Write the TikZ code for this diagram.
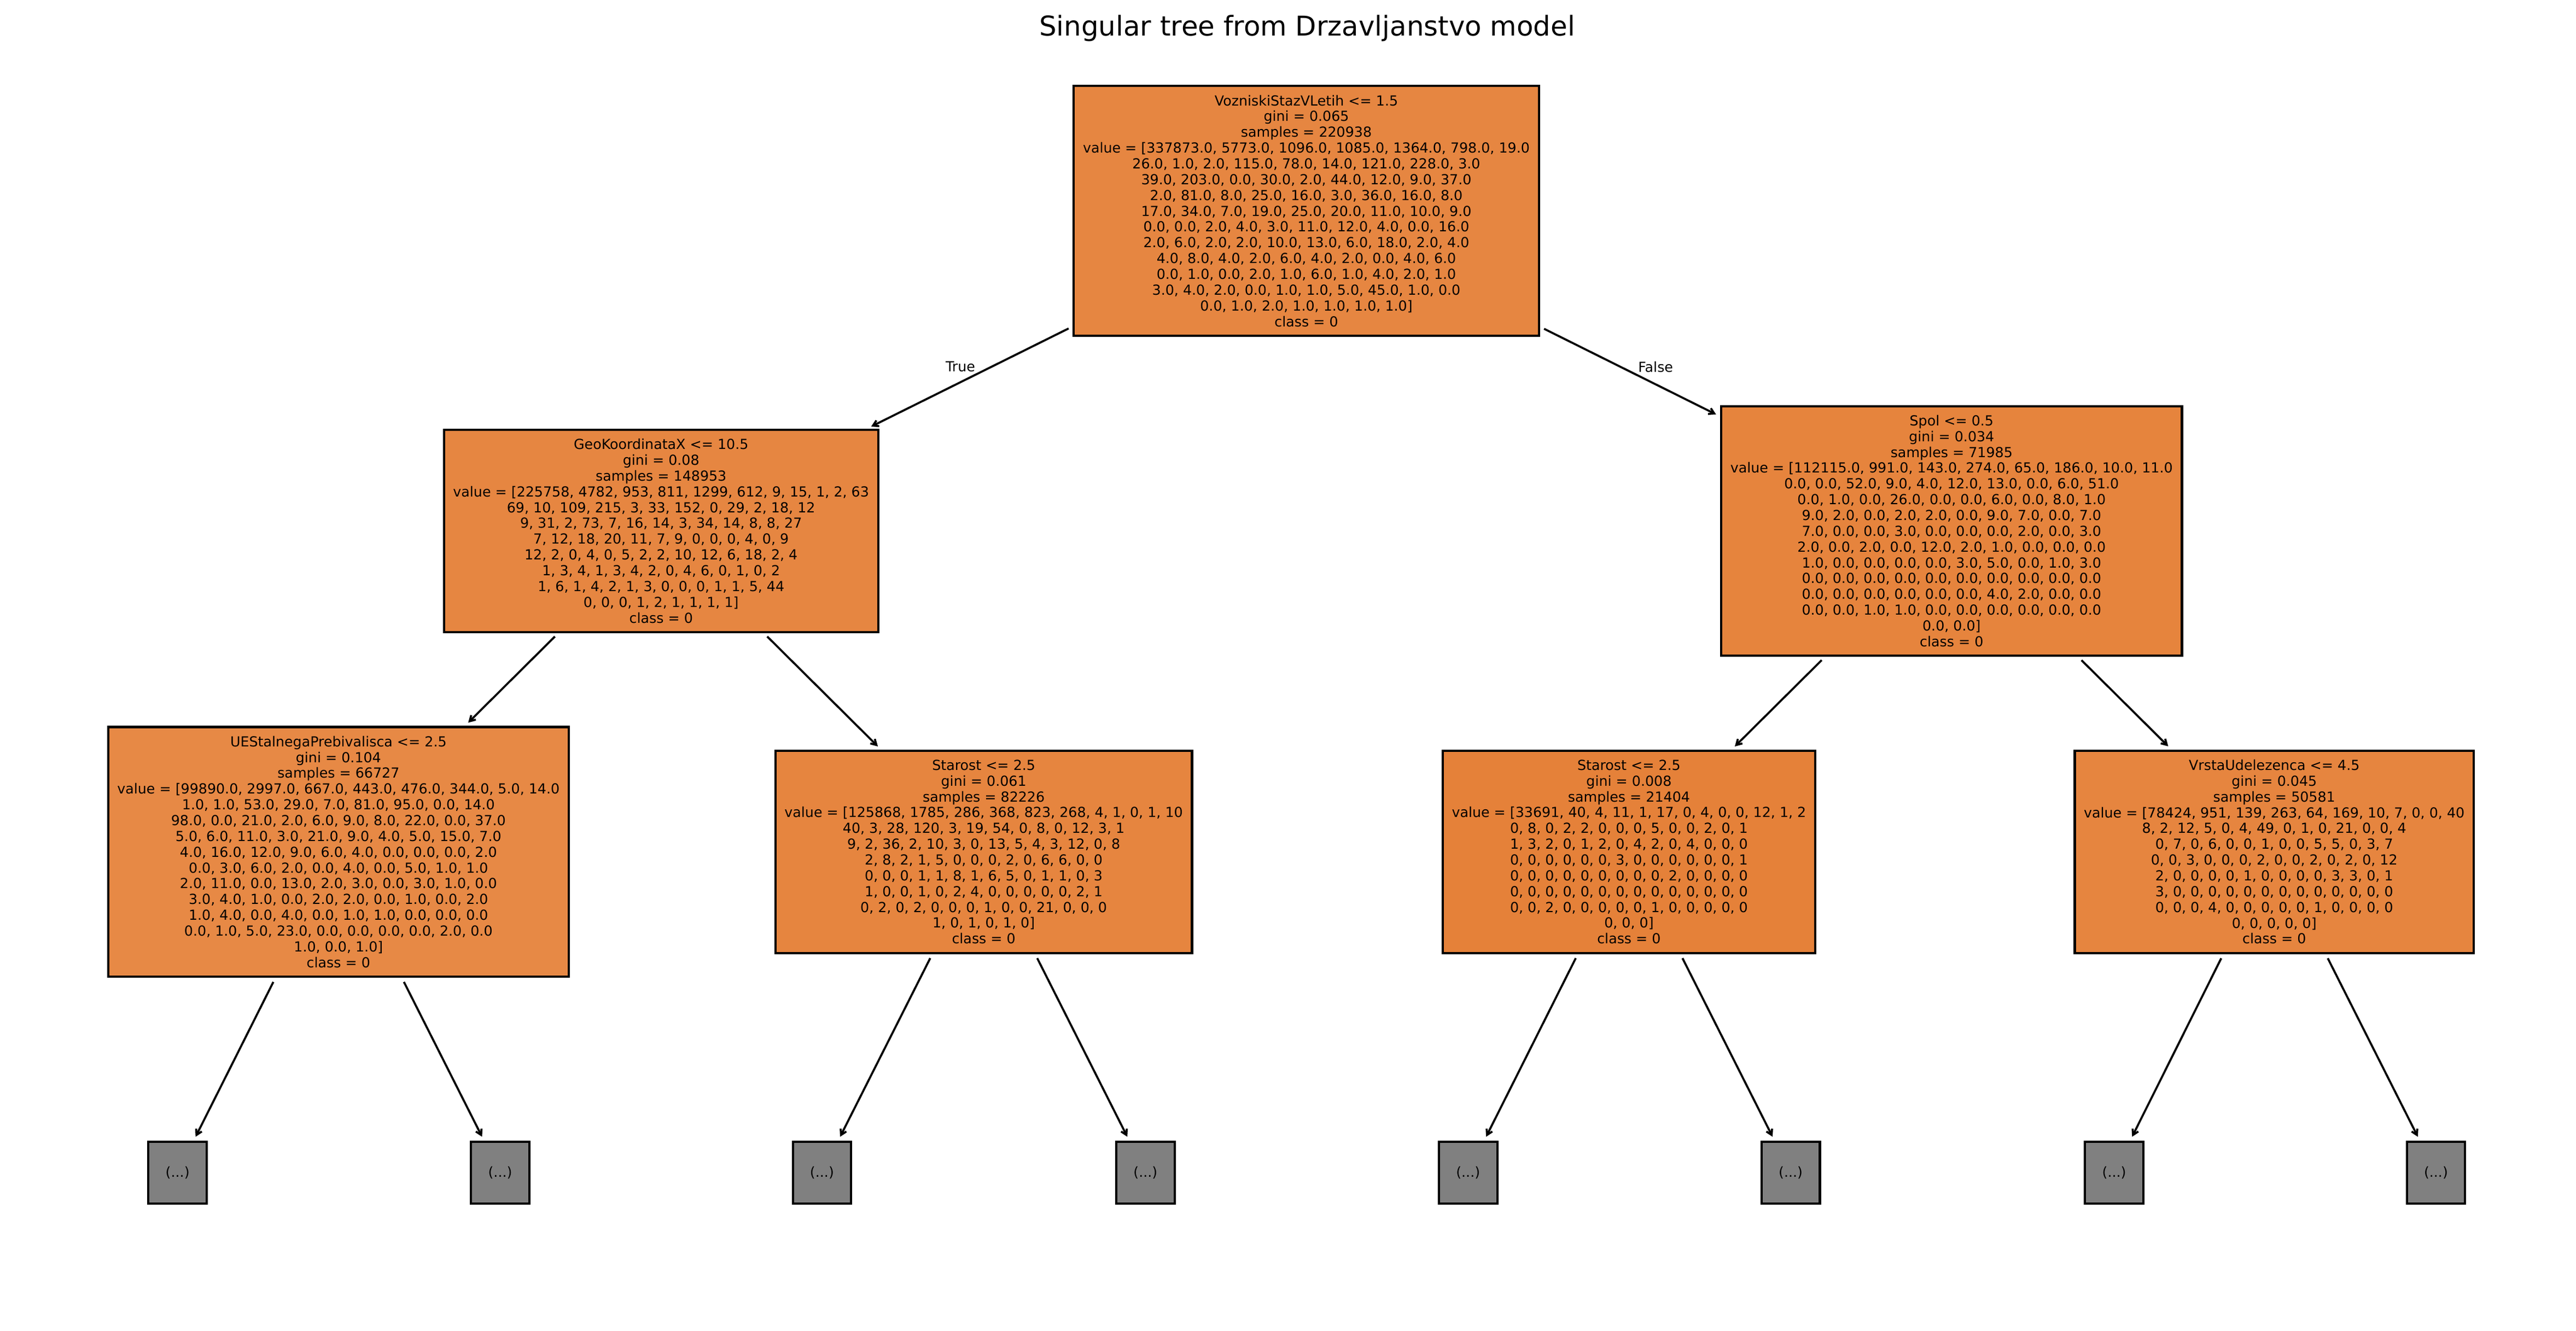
\documentclass[tikz,border=0pt]{standalone}
\usepackage{fontspec}
\setmainfont{DejaVu Sans}
\usetikzlibrary{arrows.meta}
\definecolor{treeorange}{HTML}{E58139}
\definecolor{truncgray}{HTML}{808080}

\begin{document}
\begin{tikzpicture}[
    x=0.25811mm, y=-0.25811mm,
    decision/.style={rectangle, draw, line width=1pt, align=center, inner xsep=4pt, inner ysep=4pt, font=\fontsize{6.1}{6.95}\selectfont},
    truncated/.style={rectangle, draw, line width=1pt, fill=truncgray, minimum width=9.03mm, minimum height=9.55mm, inner sep=0pt, font=\fontsize{6.1}{7}\selectfont},
    link/.style={-{Straight Barb[length=2.4pt, width=2.8pt]}, line width=0.9pt, shorten >=2pt, shorten <=2pt},
    answer/.style={font=\fontsize{6.1}{7}\selectfont}
]
    \useasboundingbox (0,0) rectangle (1545,798.1);

    % Title
    \node[font=\fontsize{12}{14}\selectfont] (title) at (784,17) {Singular tree from Drzavljanstvo model};

    % Root
    \node[decision, fill=treeorange!96] (root) at (783.5,126.5) {VozniskiStazVLetih <= 1.5\\gini = 0.065\\samples = 220938\\value = [337873.0, 5773.0, 1096.0, 1085.0, 1364.0, 798.0, 19.0\\26.0, 1.0, 2.0, 115.0, 78.0, 14.0, 121.0, 228.0, 3.0\\39.0, 203.0, 0.0, 30.0, 2.0, 44.0, 12.0, 9.0, 37.0\\2.0, 81.0, 8.0, 25.0, 16.0, 3.0, 36.0, 16.0, 8.0\\17.0, 34.0, 7.0, 19.0, 25.0, 20.0, 11.0, 10.0, 9.0\\0.0, 0.0, 2.0, 4.0, 3.0, 11.0, 12.0, 4.0, 0.0, 16.0\\2.0, 6.0, 2.0, 2.0, 10.0, 13.0, 6.0, 18.0, 2.0, 4.0\\4.0, 8.0, 4.0, 2.0, 6.0, 4.0, 2.0, 0.0, 4.0, 6.0\\0.0, 1.0, 0.0, 2.0, 1.0, 6.0, 1.0, 4.0, 2.0, 1.0\\3.0, 4.0, 2.0, 0.0, 1.0, 1.0, 5.0, 45.0, 1.0, 0.0\\0.0, 1.0, 2.0, 1.0, 1.0, 1.0, 1.0]\\class = 0};

    % Depth 1
    \node[decision, fill=treeorange!96] (geo) at (396.5,318.5) {GeoKoordinataX <= 10.5\\gini = 0.08\\samples = 148953\\value = [225758, 4782, 953, 811, 1299, 612, 9, 15, 1, 2, 63\\69, 10, 109, 215, 3, 33, 152, 0, 29, 2, 18, 12\\9, 31, 2, 73, 7, 16, 14, 3, 34, 14, 8, 8, 27\\7, 12, 18, 20, 11, 7, 9, 0, 0, 0, 4, 0, 9\\12, 2, 0, 4, 0, 5, 2, 2, 10, 12, 6, 18, 2, 4\\1, 3, 4, 1, 3, 4, 2, 0, 4, 6, 0, 1, 0, 2\\1, 6, 1, 4, 2, 1, 3, 0, 0, 0, 1, 1, 5, 44\\0, 0, 0, 1, 2, 1, 1, 1, 1]\\class = 0};
    \node[decision, fill=treeorange!98] (spol) at (1170.5,318.5) {Spol <= 0.5\\gini = 0.034\\samples = 71985\\value = [112115.0, 991.0, 143.0, 274.0, 65.0, 186.0, 10.0, 11.0\\0.0, 0.0, 52.0, 9.0, 4.0, 12.0, 13.0, 0.0, 6.0, 51.0\\0.0, 1.0, 0.0, 26.0, 0.0, 0.0, 6.0, 0.0, 8.0, 1.0\\9.0, 2.0, 0.0, 2.0, 2.0, 0.0, 9.0, 7.0, 0.0, 7.0\\7.0, 0.0, 0.0, 3.0, 0.0, 0.0, 0.0, 2.0, 0.0, 3.0\\2.0, 0.0, 2.0, 0.0, 12.0, 2.0, 1.0, 0.0, 0.0, 0.0\\1.0, 0.0, 0.0, 0.0, 0.0, 3.0, 5.0, 0.0, 1.0, 3.0\\0.0, 0.0, 0.0, 0.0, 0.0, 0.0, 0.0, 0.0, 0.0, 0.0\\0.0, 0.0, 0.0, 0.0, 0.0, 0.0, 4.0, 2.0, 0.0, 0.0\\0.0, 0.0, 1.0, 1.0, 0.0, 0.0, 0.0, 0.0, 0.0, 0.0\\0.0, 0.0]\\class = 0};

    % Depth 2
    \node[decision, fill=treeorange!94] (uestal) at (203,511) {UEStalnegaPrebivalisca <= 2.5\\gini = 0.104\\samples = 66727\\value = [99890.0, 2997.0, 667.0, 443.0, 476.0, 344.0, 5.0, 14.0\\1.0, 1.0, 53.0, 29.0, 7.0, 81.0, 95.0, 0.0, 14.0\\98.0, 0.0, 21.0, 2.0, 6.0, 9.0, 8.0, 22.0, 0.0, 37.0\\5.0, 6.0, 11.0, 3.0, 21.0, 9.0, 4.0, 5.0, 15.0, 7.0\\4.0, 16.0, 12.0, 9.0, 6.0, 4.0, 0.0, 0.0, 0.0, 2.0\\0.0, 3.0, 6.0, 2.0, 0.0, 4.0, 0.0, 5.0, 1.0, 1.0\\2.0, 11.0, 0.0, 13.0, 2.0, 3.0, 0.0, 3.0, 1.0, 0.0\\3.0, 4.0, 1.0, 0.0, 2.0, 2.0, 0.0, 1.0, 0.0, 2.0\\1.0, 4.0, 0.0, 4.0, 0.0, 1.0, 1.0, 0.0, 0.0, 0.0\\0.0, 1.0, 5.0, 23.0, 0.0, 0.0, 0.0, 0.0, 2.0, 0.0\\1.0, 0.0, 1.0]\\class = 0};
    \node[decision, fill=treeorange!97] (starostA) at (590,511) {Starost <= 2.5\\gini = 0.061\\samples = 82226\\value = [125868, 1785, 286, 368, 823, 268, 4, 1, 0, 1, 10\\40, 3, 28, 120, 3, 19, 54, 0, 8, 0, 12, 3, 1\\9, 2, 36, 2, 10, 3, 0, 13, 5, 4, 3, 12, 0, 8\\2, 8, 2, 1, 5, 0, 0, 0, 2, 0, 6, 6, 0, 0\\0, 0, 0, 1, 1, 8, 1, 6, 5, 0, 1, 1, 0, 3\\1, 0, 0, 1, 0, 2, 4, 0, 0, 0, 0, 0, 2, 1\\0, 2, 0, 2, 0, 0, 0, 1, 0, 0, 21, 0, 0, 0\\1, 0, 1, 0, 1, 0]\\class = 0};
    \node[decision, fill=treeorange] (starostB) at (977,511) {Starost <= 2.5\\gini = 0.008\\samples = 21404\\value = [33691, 40, 4, 11, 1, 17, 0, 4, 0, 0, 12, 1, 2\\0, 8, 0, 2, 2, 0, 0, 0, 5, 0, 0, 2, 0, 1\\1, 3, 2, 0, 1, 2, 0, 4, 2, 0, 4, 0, 0, 0\\0, 0, 0, 0, 0, 0, 3, 0, 0, 0, 0, 0, 0, 1\\0, 0, 0, 0, 0, 0, 0, 0, 0, 2, 0, 0, 0, 0\\0, 0, 0, 0, 0, 0, 0, 0, 0, 0, 0, 0, 0, 0\\0, 0, 2, 0, 0, 0, 0, 0, 1, 0, 0, 0, 0, 0\\0, 0, 0]\\class = 0};
    \node[decision, fill=treeorange!97] (vrsta) at (1364,511) {VrstaUdelezenca <= 4.5\\gini = 0.045\\samples = 50581\\value = [78424, 951, 139, 263, 64, 169, 10, 7, 0, 0, 40\\8, 2, 12, 5, 0, 4, 49, 0, 1, 0, 21, 0, 0, 4\\0, 7, 0, 6, 0, 0, 1, 0, 0, 5, 5, 0, 3, 7\\0, 0, 3, 0, 0, 0, 2, 0, 0, 2, 0, 2, 0, 12\\2, 0, 0, 0, 0, 1, 0, 0, 0, 0, 3, 3, 0, 1\\3, 0, 0, 0, 0, 0, 0, 0, 0, 0, 0, 0, 0, 0\\0, 0, 0, 4, 0, 0, 0, 0, 0, 1, 0, 0, 0, 0\\0, 0, 0, 0, 0]\\class = 0};

    % Truncated subtrees
    \node[truncated] (cut1) at (106.5,703.5) {(...)};
    \node[truncated] (cut2) at (300,703.5) {(...)};
    \node[truncated] (cut3) at (493,703.5) {(...)};
    \node[truncated] (cut4) at (687,703.5) {(...)};
    \node[truncated] (cut5) at (880.5,703.5) {(...)};
    \node[truncated] (cut6) at (1074,703.5) {(...)};
    \node[truncated] (cut7) at (1268,703.5) {(...)};
    \node[truncated] (cut8) at (1461,703.5) {(...)};

    % Connections
    \draw[link] (root) -- (geo);
    \draw[link] (root) -- (spol);
    \draw[link] (geo) -- (uestal);
    \draw[link] (geo) -- (starostA);
    \draw[link] (spol) -- (starostB);
    \draw[link] (spol) -- (vrsta);
    \draw[link] (uestal) -- (cut1);
    \draw[link] (uestal) -- (cut2);
    \draw[link] (starostA) -- (cut3);
    \draw[link] (starostA) -- (cut4);
    \draw[link] (starostB) -- (cut5);
    \draw[link] (starostB) -- (cut6);
    \draw[link] (vrsta) -- (cut7);
    \draw[link] (vrsta) -- (cut8);

    % Branch labels
    \node[answer] (truelbl) at (576,220) {True};
    \node[answer] (falselbl) at (993,220) {False};

\end{tikzpicture}
\end{document}
